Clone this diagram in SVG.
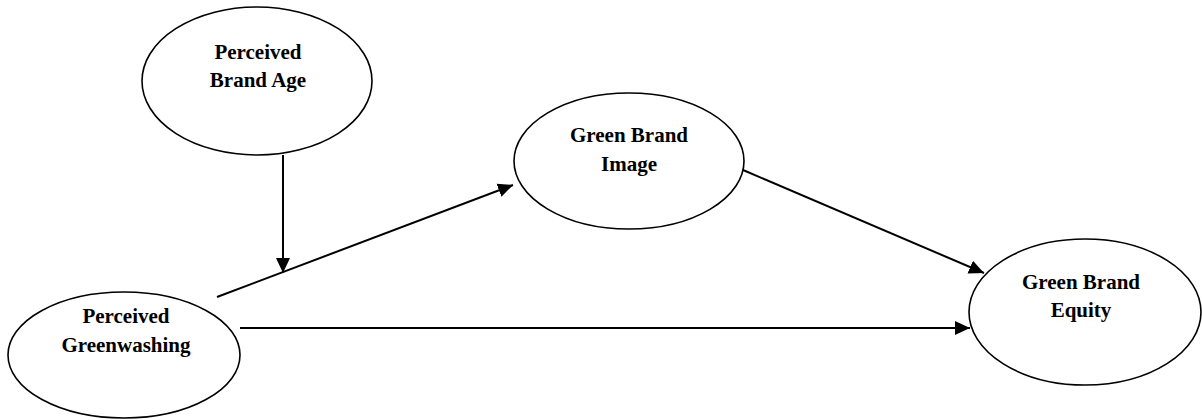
<svg xmlns="http://www.w3.org/2000/svg" width="1202" height="420" viewBox="0 0 1202 420">
  <style>
    .node ellipse { fill: #ffffff; stroke: #000000; stroke-width: 1.6; }
    .node text { font-family: "Liberation Serif", "Times New Roman", serif; font-weight: bold; font-size: 21px; fill: #000000; text-anchor: middle; }
    .edge { stroke: #000000; stroke-width: 2; fill: none; marker-end: url(#arrow); }
  </style>
  <defs>
    <marker id="arrow" markerUnits="userSpaceOnUse" markerWidth="16" markerHeight="16" viewBox="0 0 16 16" refX="15" refY="8" orient="auto">
      <path d="M0,1 L15,8 L0,15 Z" fill="#000000"/>
    </marker>
  </defs>
  <rect width="1202" height="420" fill="#ffffff"/>

  <g id="connectors">
    <line class="edge" x1="283" y1="155" x2="283" y2="273"/>
    <line class="edge" x1="217" y1="297" x2="513" y2="185"/>
    <line class="edge" x1="743" y1="170" x2="984" y2="273"/>
    <line class="edge" x1="240" y1="328" x2="970" y2="328"/>
  </g>

  <g id="perceived-brand-age" class="node">
    <ellipse cx="257" cy="81" rx="115" ry="74"/>
    <text x="258" y="59">Perceived</text>
    <text x="258" y="87">Brand Age</text>
  </g>

  <g id="green-brand-image" class="node">
    <ellipse cx="629" cy="161" rx="115" ry="68"/>
    <text x="629" y="142">Green Brand</text>
    <text x="629" y="171">Image</text>
  </g>

  <g id="perceived-greenwashing" class="node">
    <ellipse cx="124" cy="355" rx="116" ry="63"/>
    <text x="126" y="323">Perceived</text>
    <text x="126" y="352">Greenwashing</text>
  </g>

  <g id="green-brand-equity" class="node">
    <ellipse cx="1085" cy="312" rx="116" ry="73"/>
    <text x="1081" y="289">Green Brand</text>
    <text x="1081" y="317">Equity</text>
  </g>
</svg>
